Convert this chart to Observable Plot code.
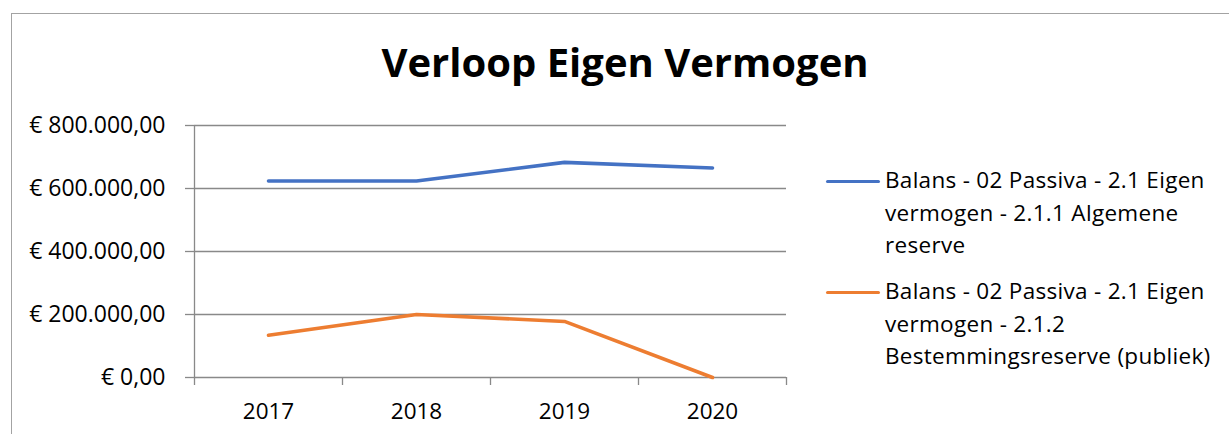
<!DOCTYPE html>
<html>
<head>
<meta charset="utf-8">
<script src="https://cdn.jsdelivr.net/npm/d3@7"></script>
<script src="https://cdn.jsdelivr.net/npm/@observablehq/plot@0.6"></script>
<style>
  html, body { margin: 0; padding: 0; background: #fff; }
  body { width: 1229px; height: 434px; overflow: hidden; position: relative; font-family: "Open Sans", Lato, sans-serif; color: #000; }
  #frame { position: absolute; left: 11px; top: 13px; width: 1300px; height: 600px; border: 1.5px solid #a3a3a3; box-sizing: border-box; }
  #title { position: absolute; left: 0; width: 1250px; top: 35px; text-align: center; font-weight: 700; font-size: 40px; line-height: 54px; }
  #chart { position: absolute; left: 0; top: 0; }
  .leg { position: absolute; left: 826px; width: 400px; }
  .leg .sw { position: absolute; left: 0; width: 54px; height: 3.5px; border-radius: 2px; }
  .leg .tx { position: absolute; left: 59px; width: 342px; font-size: 22.5px; letter-spacing: 0.3px; line-height: 32.5px; }
</style>
</head>
<body>
<div id="frame"></div>
<div id="title">Verloop Eigen Vermogen</div>
<div id="chart"></div>
<div id="legend"></div>
<script>
const years = [2017, 2018, 2019, 2020];
const seriesNames = [
  "Balans - 02 Passiva - 2.1 Eigen vermogen - 2.1.1 Algemene reserve",
  "Balans - 02 Passiva - 2.1 Eigen vermogen - 2.1.2 Bestemmingsreserve (publiek)"
];
const algemeneReserve = [624000, 624000, 683000, 665000];
const bestemmingsreserve = [134000, 200000, 178000, 0];
const colors = ["#4472C4", "#ED7D31"];
const yTicks = [0, 200000, 400000, 600000, 800000];
const bandEdges = [2016.5, 2017.5, 2018.5, 2019.5, 2020.5];

const data = [];
years.forEach((yr, i) => {
  data.push({year: yr, value: algemeneReserve[i], series: seriesNames[0]});
  data.push({year: yr, value: bestemmingsreserve[i], series: seriesNames[1]});
});

const euro = v => "€ " + v.toLocaleString("nl-NL", {minimumFractionDigits: 2, maximumFractionDigits: 2});
const gray = "#898989";

const plot = Plot.plot({
  width: 800,
  height: 434,
  marginLeft: 194,
  marginRight: 14,
  marginTop: 125,
  marginBottom: 57,
  style: {fontFamily: "'Open Sans', Lato, sans-serif", fontSize: "22.5px", color: "#000", background: "transparent"},
  x: {domain: [bandEdges[0], bandEdges[bandEdges.length - 1]]},
  y: {domain: [0, 800000]},
  color: {domain: seriesNames, range: colors},
  marks: [
    Plot.ruleY(yTicks, {stroke: gray, strokeWidth: 1.3}),
    Plot.ruleX([bandEdges[0]], {stroke: gray, strokeWidth: 1.3}),
    Plot.axisY({ticks: yTicks, tickSize: 9, tickPadding: 20, fontSize: 23, tickFormat: euro, stroke: gray, strokeWidth: 1.3, strokeOpacity: 1, label: null}),
    Plot.axisX({ticks: bandEdges, tickSize: 8, tickFormat: () => "", stroke: gray, strokeWidth: 1.3, strokeOpacity: 1, label: null}),
    Plot.axisX({ticks: years, tickSize: 0, tickPadding: 26, tickFormat: d => String(d), label: null}),
    Plot.line(data, {x: "year", y: "value", z: "series", stroke: "series", strokeWidth: 3.6, strokeLinecap: "round", strokeLinejoin: "round"})
  ]
});
document.getElementById("chart").appendChild(plot);

const legend = document.getElementById("legend");
const legTops = [164, 275];
seriesNames.forEach((name, i) => {
  const d = document.createElement("div");
  d.className = "leg";
  d.style.top = legTops[i] + "px";
  const sw = document.createElement("div");
  sw.className = "sw";
  sw.style.background = colors[i];
  sw.style.top = "15.5px";
  const tx = document.createElement("div");
  tx.className = "tx";
  tx.textContent = name;
  d.appendChild(sw);
  d.appendChild(tx);
  legend.appendChild(d);
});
</script>
</body>
</html>
